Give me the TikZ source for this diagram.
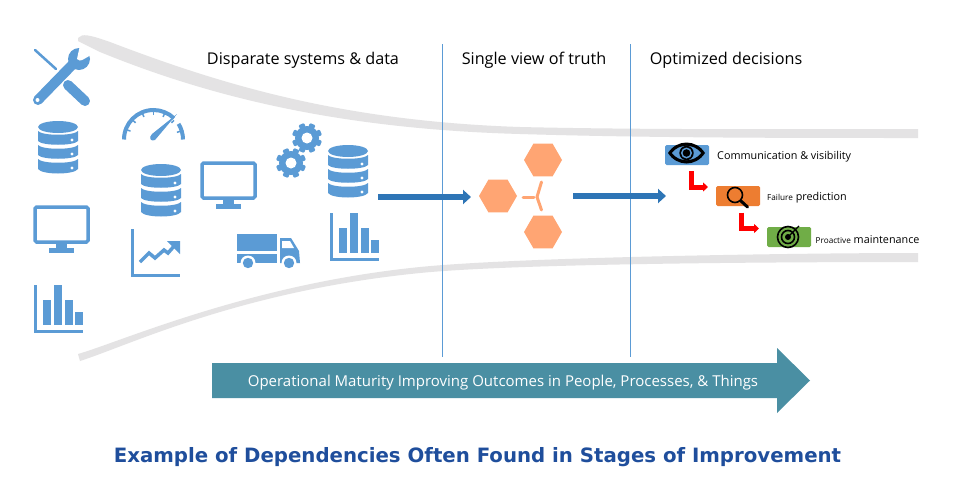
\documentclass[tikz,border=0pt]{standalone}
\usepackage{fontspec}
\setmainfont{Open Sans}
\newfontfamily\titlefont{DejaVu Sans}
\usetikzlibrary{arrows.meta,shapes.geometric}
\definecolor{icon}{HTML}{5B9BD5}
\definecolor{band}{HTML}{E4E3E4}
\definecolor{flow}{HTML}{2E75B6}
\definecolor{hexc}{HTML}{FFA573}
\definecolor{teal}{HTML}{4A8FA3}
\definecolor{navy}{HTML}{1F4E9C}
\definecolor{boxorange}{HTML}{ED7D31}
\definecolor{boxgreen}{HTML}{70AD47}
\tikzset{
  x=1pt,y=-1pt,
  head/.style={font=\fontsize{16.2}{20}\selectfont,text=black,inner sep=0pt,anchor=center},
  lab/.style={font=\fontsize{10.8}{12}\selectfont,text=black,inner sep=0pt,anchor=west},
  hexa/.style={regular polygon,regular polygon sides=6,fill=hexc,draw=none,minimum size=38pt,inner sep=0pt},
  stepbox/.style={rounded corners=1.5pt,minimum width=44pt,minimum height=20pt,inner sep=0pt,draw=none},
  spoke/.style={draw=hexc,line width=3pt,line cap=round},
  vline/.style={draw=icon,line width=1pt},
  flowarrow/.style={draw=flow,line width=6.5pt,-{Triangle[length=8pt,width=14pt]}},
  redarrow/.style={draw=red,line width=5pt,-{Triangle[length=5pt,width=9pt]}},
  pics/db/.style={code={
    \fill[icon] (-20,-21) arc[start angle=180,end angle=-180,x radius=20,y radius=6];
    \fill[icon] (-20,-17) .. controls (-16,-12) and (16,-12) .. (20,-17) -- (20,-7)
       .. controls (16,-2) and (-16,-2) .. (-20,-7) -- cycle;
    \fill[icon] (-20,-3) .. controls (-16,2) and (16,2) .. (20,-3) -- (20,7)
       .. controls (16,12) and (-16,12) .. (-20,7) -- cycle;
    \fill[icon] (-20,11) .. controls (-16,16) and (16,16) .. (20,11) -- (20,21)
       .. controls (16,27) and (-16,27) .. (-20,21) -- cycle;
    \fill[white] (14,-8) circle (1.6) (14,6) circle (1.6) (14,20) circle (1.6);
  }},
  pics/mon/.style={code={
    \draw[icon,line width=3.5pt,rounded corners=1.5pt,fill=white] (2,2) rectangle (55,37);
    \fill[icon] (23,38) rectangle (34,44);
    \fill[icon] (16,43) rectangle (41,47.5);
  }},
  pics/bars/.style={code={
    \fill[icon] (0,0) rectangle (3,48);
    \fill[icon] (0,45) rectangle (49,48);
    \fill[icon] (9,15) rectangle (17,40);
    \fill[icon] (20,0) rectangle (28,40);
    \fill[icon] (31,15) rectangle (39,40);
    \fill[icon] (41,27) rectangle (49,40);
  }},
  pics/gearx/.style={code={
    \foreach \a in {0,45,...,315}{
      \fill[icon,rotate=\a+22.5,rounded corners=1pt] (-3,-15) rectangle (3,0);
    }
    \fill[icon] (0,0) circle (12);
    \fill[white] (0,0) circle (5.5);
  }},
}
\begin{document}
\begin{tikzpicture}
\useasboundingbox (0,0) rectangle (959,501);
\fill[white] (0,0) rectangle (959,501);
% funnel bands
\fill[band] (78,38) .. controls (82,33) and (90,35) .. (110,42)
  .. controls (220,84) and (340,121) .. (520,127)
  .. controls (650,130) and (800,129) .. (918,129) -- (918,138)
  .. controls (800,138) and (650,138) .. (520,134)
  .. controls (340,129) and (210,97) .. (100,52) -- (78,41) -- cycle;
\fill[band] (78,354) .. controls (120,342) and (250,284) .. (420,267)
  .. controls (520,257) and (800,253) .. (918,253) -- (918,262)
  .. controls (800,262) and (520,263) .. (420,273)
  .. controls (240,291) and (130,345) .. (80,361) -- cycle;
% dividers
\coordinate (d1a) at (442.5,44); \coordinate (d1b) at (442.5,357);
\coordinate (d2a) at (630.5,44); \coordinate (d2b) at (630.5,357);
\draw[vline] (d1a) -- (d1b);
\draw[vline] (d2a) -- (d2b);
% headings
\node[head] (h1) at (303,60) {Disparate systems \& data};
\node[head] (h2) at (534,60) {Single view of truth};
\node[head] (h3) at (726,60) {Optimized decisions};
% wrench + screwdriver
\draw[icon,line width=2.5pt,line cap=round] (35,50) -- (56,69);
\draw[icon,line width=10pt,line cap=round] (68,85) -- (85,101);
\draw[icon,line width=10pt,line cap=round] (38,100) -- (74,63);
\fill[icon] (79,59) circle (11);
\fill[white] (77,59) -- (80,45) -- (95,50) -- (91,55) -- (84,59) .. controls (81,61) and (78,61) .. (77,59) -- cycle;
\fill[white] (37.5,100) circle (2);
% icon stacks
\pic at (58,148) {db};
\pic at (33,205) {mon};
\pic at (34,285) {bars};
\pic at (161,191) {db};
\pic at (200,161) {mon};
\pic at (348,172) {db};
\pic at (330,213) {bars};
\pic at (307,138) {gearx};
\pic at (291,163) {gearx};
% gauge
\draw[icon,line width=4pt] (124,139.5) arc[start angle=-180,end angle=-46,radius=29.5];
\draw[icon,line width=4pt] (183,139.5) arc[start angle=0,end angle=-32,radius=29.5];
\foreach \a in {160,137,113,90,67,43}{
  \draw[icon,line width=1.5pt] (153.5,139.5) ++(-\a:24.5) -- ++(-\a:3.5);
}
\draw[icon,line width=1.5pt] (153.5,139.5) ++(-17:24.5) -- ++(-17:3.5);
\fill[icon] (177,114) -- (152,134) .. controls (148,138) and (151,142) .. (155,140) -- cycle;
% line chart
\fill[icon] (131,229) rectangle (134,277);
\fill[icon] (131,274) rectangle (180,277);
\draw[icon,line width=3.5pt] (140,262) -- (149,253) -- (155,258) -- (164,250) -- (168,253) -- (176,244);
\fill[icon] (167,241) -- (180,241) -- (180,254) -- cycle;
% truck
\fill[icon] (237,234) rectangle (277,251);
\fill[icon] (237,254) rectangle (277,263);
\fill[icon] (280,238) -- (291,238) -- (299,251) -- (300,263) -- (280,263) -- cycle;
\fill[white] (282,241) -- (290,241) -- (294,248) -- (282,248) -- cycle;
\fill[white] (248,263) circle (7.5) (289,263) circle (7.5);
\fill[icon] (248,263) circle (5.2) (289,263) circle (5.2);
% hexagons
\node[hexa] (hl) at (498,196) {};
\node[hexa] (ht) at (543,160) {};
\node[hexa] (hb) at (543,232) {};
\coordinate (hc) at (537,197);
\coordinate (sl) at (523,197);
\coordinate (st) at (541.5,182);
\coordinate (sb) at (541.5,210);
\draw[spoke] (sl) -- (534,197);
\draw[spoke] (hc) -- (st);
\draw[spoke] (hc) -- (sb);
% flow arrows
\coordinate (a1s) at (378,197);
\coordinate (a1e) at (471,197);
\coordinate (a2s) at (573,196);
\coordinate (a2e) at (666,196);
\draw[flowarrow] (a1s) -- (a1e);
\draw[flowarrow] (a2s) -- (a2e);
% decision boxes
\node[stepbox,fill=icon] (b1) at (687,155) {};
\node[stepbox,fill=boxorange] (b2) at (738,196) {};
\node[stepbox,fill=boxgreen] (b3) at (789,237) {};
% eye
\fill[black] (668,153) .. controls (677,139) and (696,139) .. (705,153)
  .. controls (696,167) and (677,167) .. (668,153) -- cycle;
\fill[icon] (672,153) .. controls (679,143.5) and (694,143.5) .. (701,153)
  .. controls (694,162.5) and (679,162.5) .. (672,153) -- cycle;
\fill[black] (686.5,153) circle (7.2);
\fill[icon] (686.5,153) circle (5.5);
\fill[black] (686.5,153) circle (3.8);
% magnifier
\draw[black,line width=1.6pt] (735,195) circle (7.5);
\draw[black,line width=3pt,line cap=round] (741,201) -- (747.5,207);
% target
\draw[black,line width=1.6pt] (788,237) circle (10.5);
\draw[black,line width=1.6pt] (788,237) circle (6.5);
\fill[black] (788,237) circle (3);
\draw[black,line width=1.2pt] (788,237) -- (799,226);
% labels
\node[lab] (t1) at (717,156.5) {Communication \& visibility};
\node[lab] (t2) at (767,197.5) {{\fontsize{8.2}{10}\selectfont Failure} prediction};
\node[lab] (t3) at (815.5,239.5) {{\fontsize{8.2}{10}\selectfont Proactive} maintenance};
% red arrows
\coordinate (r1a) at (691.5,171); \coordinate (r1b) at (691.5,187); \coordinate (r1c) at (708,187);
\coordinate (r2a) at (741.5,212.5); \coordinate (r2b) at (741.5,228.5); \coordinate (r2c) at (759,228.5);
\draw[redarrow] (r1a) -- (r1b) -- (r1c);
\draw[redarrow] (r2a) -- (r2b) -- (r2c);
% big arrow
\fill[teal] (212,363) -- (777,363) -- (777,348) -- (810,380.5) -- (777,413) -- (777,398) -- (212,398) -- cycle;
\node[font=\fontsize{15}{18}\selectfont,text=white,inner sep=0pt] (bar) at (503,383) {Operational Maturity Improving Outcomes in People, Processes, \& Things};
% title
\node[font=\titlefont\bfseries\fontsize{19.75}{24}\selectfont,text=navy,inner sep=0pt] (title) at (477.5,457) {Example of Dependencies Often Found in Stages of Improvement};
\end{tikzpicture}
\end{document}
